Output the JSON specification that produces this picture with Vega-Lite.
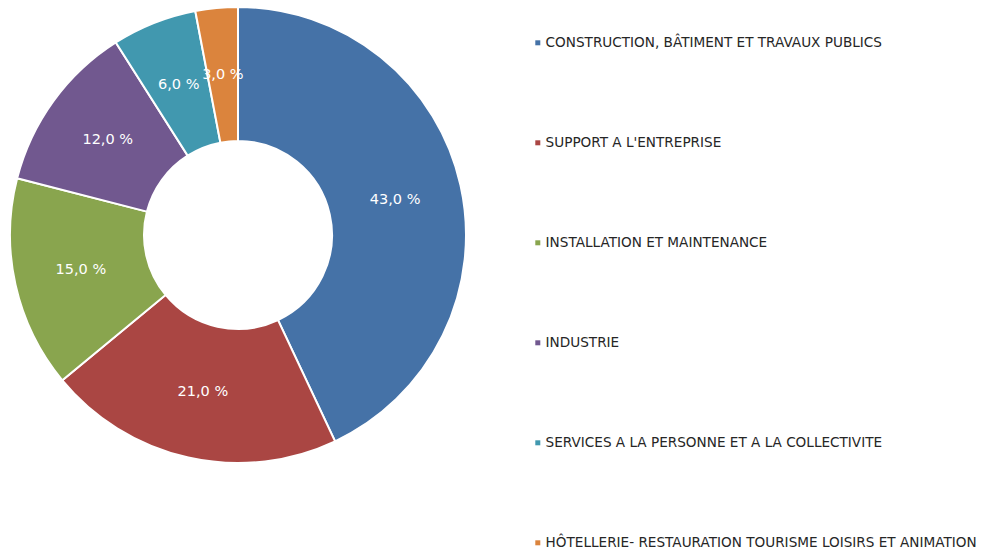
{
  "$schema": "https://vega.github.io/schema/vega-lite/v6.json",
  "width": 476,
  "height": 470,
  "padding": {"left": 0, "top": 0, "right": 508, "bottom": 81},
  "autosize": {"type": "none"},
  "background": "white",
  "config": {"view": {"stroke": null}, "font": "DejaVu Sans"},
  "data": {"values": [
    {"cat": "CONSTRUCTION, BÂTIMENT ET TRAVAUX PUBLICS", "v": 43, "o": 1, "lab": "43,0 %"},
    {"cat": "SUPPORT A L'ENTREPRISE", "v": 21, "o": 2, "lab": "21,0 %"},
    {"cat": "INSTALLATION ET MAINTENANCE", "v": 15, "o": 3, "lab": "15,0 %"},
    {"cat": "INDUSTRIE", "v": 12, "o": 4, "lab": "12,0 %"},
    {"cat": "SERVICES A LA PERSONNE ET A LA COLLECTIVITE", "v": 6, "o": 5, "lab": "6,0 %"},
    {"cat": "HÔTELLERIE- RESTAURATION TOURISME LOISIRS ET ANIMATION", "v": 3, "o": 6, "lab": "3,0 %"}
  ]},
  "encoding": {
    "theta": {"field": "v", "type": "quantitative", "stack": true},
    "order": {"field": "o", "type": "quantitative"}
  },
  "layer": [
    {
      "mark": {"type": "arc", "innerRadius": 94, "outerRadius": 228, "stroke": "white", "strokeWidth": 2},
      "encoding": {
        "color": {
          "field": "cat", "type": "nominal",
          "scale": {
            "domain": ["CONSTRUCTION, BÂTIMENT ET TRAVAUX PUBLICS", "SUPPORT A L'ENTREPRISE", "INSTALLATION ET MAINTENANCE", "INDUSTRIE", "SERVICES A LA PERSONNE ET A LA COLLECTIVITE", "HÔTELLERIE- RESTAURATION TOURISME LOISIRS ET ANIMATION"],
            "range": ["#4572A7", "#AA4643", "#89A54E", "#71588F", "#4198AF", "#DB843D"]
          },
          "legend": {
            "title": null,
            "orient": "none",
            "legendX": 531,
            "legendY": 36,
            "symbolType": "square",
            "symbolSize": 25,
            "symbolStrokeWidth": 0,
            "labelFontSize": 13.6,
            "labelColor": "#262626",
            "labelFont": "DejaVu Sans",
            "labelLimit": 600,
            "rowPadding": 85,
            "labelOffset": 1
          }
        }
      }
    },
    {
      "mark": {"type": "text", "radius": 161, "fontSize": 14.5, "fill": "white", "font": "DejaVu Sans"},
      "encoding": {"text": {"field": "lab"}}
    }
  ]
}
